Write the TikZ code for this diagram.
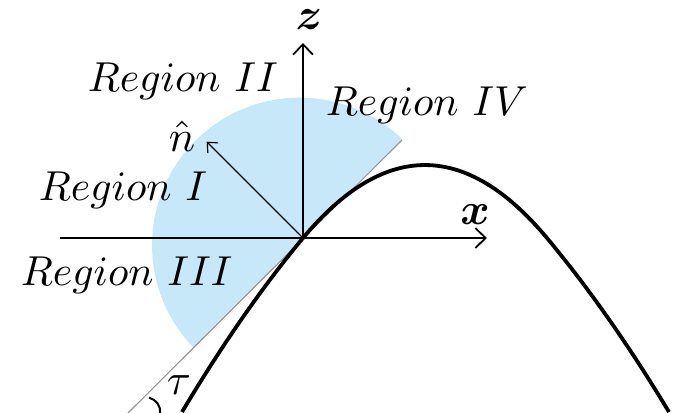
\documentclass[tikz,border=0pt]{standalone}
\usepackage{amsmath}
\usepackage{bm}
\usetikzlibrary{arrows.meta}
\definecolor{regionblue}{RGB}{198,232,248}
\definecolor{tangentgray}{RGB}{150,150,150}
\tikzset{
  axis/.style={line width=0.45pt, -{Straight Barb[length=2.6pt,width=5pt,line width=0.45pt]}},
  negaxis/.style={line width=0.3pt},
  normalvec/.style={line width=0.28pt, -{Straight Barb[length=2pt,width=3.6pt,line width=0.28pt]}},
  tangentline/.style={line width=0.28pt, draw=tangentgray},
  curveline/.style={line width=0.95pt},
  reglabel/.style={inner sep=0pt, anchor=base west},
  symlabel/.style={inner sep=0pt},
}
\newcommand{\regtext}[1]{\scalebox{0.955}{$#1$}}
\begin{document}
\begin{tikzpicture}[x=0.25pt, y=0.25pt, font=\fontsize{10.95}{13}\selectfont]
\useasboundingbox (-303,-174) rectangle (387,238);
\clip (-303,-174) rectangle (387,238);
% shaded half disk
\fill[regionblue] (99,99) arc[start angle=46, end angle=224, radius=36.875pt] -- cycle;
% coordinates
\coordinate (O) at (0,0);
\coordinate (xneg) at (-243,0);
\coordinate (xpos) at (184,0);
\coordinate (ztop) at (0,195);
\coordinate (ntip) at (-96.3,96.3);
\coordinate (tA) at (-176,-176);
\coordinate (tB) at (99,98);
% tangent line
\draw[tangentline] (tA) -- (tB);
% axes
\draw[negaxis] (xneg) -- (O);
\draw[axis] (O) -- (xpos);
\draw[axis] (O) -- (ztop);
% normal vector
\draw[normalvec] (O) -- (ntip);
% curve
\draw[curveline] (-121,-174) .. controls (-78.3,-102.4) and (-37.6,-45.1) .. (O)
  .. controls (81.3,97.3) and (162.7,97.3) .. (244,0)
  .. controls (281.6,-45.1) and (323,-102.4) .. (366,-174);
% angle mark
\draw[line width=0.5pt] (-157.5,-174) ++(76:14.8) arc[start angle=76, end angle=-5, radius=3.7pt];
% labels
\node[symlabel] (zlab) at (6,218) {\fontsize{12}{14}\selectfont\scalebox{0.93}{$\bm{z}$}};
\node[symlabel] (xlab) at (172,23) {\fontsize{12}{14}\selectfont\scalebox{0.93}{$\bm{x}$}};
\node[symlabel] (nlab) at (-121,102) {$\hat{n}$};
\node[symlabel] (taulab) at (-124,-147) {$\tau$};
\node[reglabel] (r2) at (-216,147) {\regtext{Region\ II}};
\node[reglabel] (r1) at (-265,38) {\regtext{Region\ I}};
\node[reglabel] (r3) at (-283,-47) {\regtext{Region\ III}};
\node[reglabel] (r4) at (22,123) {\regtext{Region\ IV}};
\end{tikzpicture}
\end{document}
